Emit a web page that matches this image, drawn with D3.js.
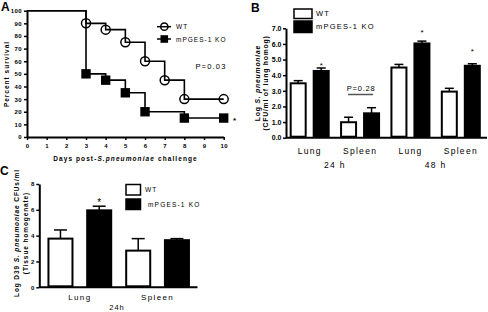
<!DOCTYPE html>
<html><head><meta charset="utf-8">
<script src="https://cdn.jsdelivr.net/npm/d3@7"></script>
<style>
body{margin:0;background:#fff}
svg{display:block}
text{font-family:"Liberation Sans",Arial,sans-serif;fill:#000}
</style></head><body>
<svg id="c" width="488" height="312"></svg>
<script>
// ---------- Panel A data (Kaplan-Meier survival) ----------
const aXTicks = [0,1,2,3,4,5,6,7,8,9,10];
const aYTicks = [0,10,20,30,40,50,60,70,80,90,100];
const wtDays = [0,3,4,5,6,7,8,10];
const wtSurv = [100,90,85,75,60,45,30,30];
const koDays = [0,3,4,5,6,8,10];
const koSurv = [100,50,45,35,20,15,15];
const seriesNames = ["WT","mPGES-1 KO"];

// ---------- Panel B data ----------
const bTissues = ["Lung","Spleen","Lung","Spleen"];
const bTimes = ["24 h","48 h"];
const bWT = [3.48,0.99,4.49,2.95];
const bWTerr = [0.17,0.32,0.20,0.21];
const bKO = [4.27,1.56,6.03,4.60];
const bKOerr = [0.19,0.36,0.15,0.13];
const bStars = ["*","","*","*"];
const bStarLevel = [4.77,0,6.84,5.67];
const bYTicks = [0,1,2,3,4,5,6,7];

// ---------- Panel C data ----------
const cTissues = ["Lung","Spleen"];
const cWT = [3.77,2.84];
const cWTerr = [0.67,0.93];
const cKO = [5.96,3.65];
const cKOerr = [0.32,0.12];
const cStars = ["*",""];
const cYTicks = [0,2,4,6,8];

const svg = d3.select("#c");
const FONT = '"Liberation Sans",Arial,sans-serif';

function styleAxis(g, fs, ls){
  g.select(".domain").attr("stroke","#000").attr("stroke-width",2);
  g.selectAll(".tick line").attr("stroke","#000").attr("stroke-width",1.5);
  g.selectAll(".tick text").attr("font-size",fs).attr("font-weight","bold")
   .attr("letter-spacing",ls).attr("font-family",FONT).attr("fill","#000");
}
function panelLetter(t,x,y){
  svg.append("text").attr("x",x).attr("y",y).attr("font-size",12).attr("font-weight","bold").text(t);
}
function rotTitle(x,y,parts,fs,ls){
  const t = svg.append("text").attr("transform",`translate(${x},${y}) rotate(-90)`)
    .attr("text-anchor","middle").attr("dominant-baseline","central")
    .attr("font-size",fs).attr("font-weight","bold").attr("letter-spacing",ls);
  parts.forEach(p=>t.append("tspan").attr("font-style",p[1]?"italic":"normal").text(p[0]));
}

// ================= Panel A =================
panelLetter("A",1,11);
const ax = d3.scaleLinear().domain([0,10]).range([27,223.7]);
const ay = d3.scaleLinear().domain([0,100]).range([137,10.7]);
const gAx = svg.append("g").attr("transform","translate(0,137)")
  .call(d3.axisBottom(ax).tickValues(aXTicks).tickSize(3).tickSizeOuter(0).tickPadding(3.5));
styleAxis(gAx,6,0.4);
const gAy = svg.append("g").attr("transform","translate(27,0)")
  .call(d3.axisLeft(ay).tickValues(aYTicks).tickSize(3).tickSizeOuter(0).tickPadding(2));
styleAxis(gAy,6,0.4);

const step = d3.line().x(d=>ax(d[0])).y(d=>ay(d[1])).curve(d3.curveStepAfter);
const wtPts = wtDays.map((d,i)=>[d,wtSurv[i]]);
const koPts = koDays.map((d,i)=>[d,koSurv[i]]);
svg.append("path").attr("d",step(wtPts)).attr("fill","none").attr("stroke","#000").attr("stroke-width",1.6);
svg.append("path").attr("d",step(koPts)).attr("fill","none").attr("stroke","#000").attr("stroke-width",1.6);
svg.selectAll(".wtm").data(wtPts.slice(1)).enter().append("circle")
  .attr("cx",d=>ax(d[0])).attr("cy",d=>ay(d[1])).attr("r",4.5)
  .attr("fill","none").attr("stroke","#000").attr("stroke-width",1.5);
svg.selectAll(".kom").data(koPts.slice(1)).enter().append("rect")
  .attr("x",d=>ax(d[0])-4.7).attr("y",d=>ay(d[1])-4.7).attr("width",9.4).attr("height",9.4).attr("fill","#000");
svg.append("text").attr("x",233).attr("y",123).attr("font-size",8).attr("font-weight","bold").text("*");
svg.append("text").attr("x",211).attr("y",66).attr("text-anchor","middle").attr("dominant-baseline","central")
  .attr("font-size",7.5).attr("letter-spacing",1.2).text("P=0.03");
// legend A
[0,1].forEach(i=>{
  const y = 26.7 + i*12.3;
  svg.append("line").attr("x1",157).attr("x2",171).attr("y1",y).attr("y2",y).attr("stroke","#000").attr("stroke-width",1.5);
  if(i===0) svg.append("circle").attr("cx",164.3).attr("cy",y).attr("r",3.6).attr("fill","none").attr("stroke","#000").attr("stroke-width",1.5);
  else svg.append("rect").attr("x",160.5).attr("y",y-3.8).attr("width",7.6).attr("height",7.6).attr("fill","#000");
  svg.append("text").attr("x",176).attr("y",y).attr("dominant-baseline","central").attr("font-size",6.5)
    .attr("letter-spacing",1).text(seriesNames[i]);
});
rotTitle(5.5,74,[["Percent survival",false]],6.5,1);
svg.append("text").attr("x",125.5).attr("y",157.5).attr("text-anchor","middle").attr("dominant-baseline","central")
  .attr("font-size",6.5).attr("font-weight","bold").attr("letter-spacing",1.1)
  .call(t=>{t.append("tspan").text("Days post-");t.append("tspan").attr("font-style","italic").text("S.pneumoniae");t.append("tspan").text(" challenge");});

// ================= Panel B =================
panelLetter("B",251,12);
const bIdx = d3.range(bTissues.length);
const bx0 = d3.scaleBand().domain(bIdx).range([284.5,486]).paddingInner(0.206).paddingOuter(0.103);
const bx1 = d3.scaleBand().domain([0,1]).range([0,bx0.bandwidth()]).paddingInner(0.261);
const by = d3.scaleLinear().domain([0,7]).range([137.7,28.3]);
svg.append("line").attr("x1",286).attr("x2",487).attr("y1",137.7).attr("y2",137.7).attr("stroke","#000").attr("stroke-width",2);
const gBy = svg.append("g").attr("transform","translate(286,0)")
  .call(d3.axisLeft(by).tickValues(bYTicks).tickSize(3).tickSizeOuter(0).tickPadding(1.5));
styleAxis(gBy,7,0);
function bars(x0,x1,y,vals,errs,series,capW){
  const g = svg.append("g");
  vals.forEach((v,i)=>{
    const x = x0(i)+x1(series), w = x1.bandwidth(), cx = x + w/2;
    const top = y(v+errs[i]);
    g.append("line").attr("x1",cx).attr("x2",cx).attr("y1",y(v)).attr("y2",top).attr("stroke","#000").attr("stroke-width",1.5);
    g.append("line").attr("x1",cx-capW/2).attr("x2",cx+capW/2).attr("y1",top).attr("y2",top).attr("stroke","#000").attr("stroke-width",1.5);
    g.append("rect").attr("x",x+1).attr("y",y(v)).attr("width",w-2).attr("height",y(0)-y(v)-1)
      .attr("fill",series===0?"#fff":"#000").attr("stroke","#000").attr("stroke-width",2);
  });
}
bars(bx0,bx1,by,bWT,bWTerr,0,9);
bars(bx0,bx1,by,bKO,bKOerr,1,9);
bIdx.forEach(i=>{
  svg.append("text").attr("x",bx0(i)+bx0.bandwidth()/2).attr("y",151).attr("text-anchor","middle")
    .attr("dominant-baseline","central").attr("font-size",8.5).attr("letter-spacing",1.3).text(bTissues[i]);
  if(bStars[i]){
    const cx = bx0(i)+bx1(1)+bx1.bandwidth()/2;
    svg.append("text").attr("x",cx).attr("y",by(bStarLevel[i])+4.5).attr("text-anchor","middle")
      .attr("font-size",8).text(bStars[i]);
  } else {
    svg.append("text").attr("x",bx0(i)+bx0.bandwidth()/2+1).attr("y",88).attr("text-anchor","middle")
      .attr("dominant-baseline","central").attr("font-size",7.5).attr("letter-spacing",0.8).text("P=0.28");
    svg.append("line").attr("x1",bx0(i)+8).attr("x2",bx0(i)+bx0.bandwidth()-7).attr("y1",94.5).attr("y2",94.5)
      .attr("stroke","#555").attr("stroke-width",1.5);
  }
});
bTimes.forEach((t,k)=>{
  const cx = (bx0(2*k)+bx0(2*k+1)+bx0.bandwidth())/2;
  svg.append("text").attr("x",cx).attr("y",165).attr("text-anchor","middle").attr("dominant-baseline","central")
    .attr("font-size",8.5).attr("letter-spacing",1.3).text(t);
});
// legend B
[0,1].forEach(i=>{
  const y0 = i===0?9:21, h = i===0?9.5:11.5;
  svg.append("rect").attr("x",294).attr("y",y0).attr("width",18).attr("height",h)
    .attr("fill",i===0?"#fff":"#000").attr("stroke","#000").attr("stroke-width",1.5);
  svg.append("text").attr("x",316).attr("y",y0+h/2).attr("dominant-baseline","central").attr("font-size",7.5)
    .attr("letter-spacing",1.2).text(seriesNames[i]);
});
rotTitle(256.5,83,[["Log ",false],["S. pneumoniae",true]],6.8,0.8);
rotTitle(264.5,83,[["(CFU/ml of lung homog)",false]],6.8,0.8);

// ================= Panel C =================
panelLetter("C",0,175);
const cIdx = d3.range(cTissues.length);
const cx0 = d3.scaleBand().domain(cIdx).range([41,196.4]).paddingInner(0.167).paddingOuter(0.083);
const cx1 = d3.scaleBand().domain([0,1]).range([0,cx0.bandwidth()]).paddingInner(0.328);
const cy = d3.scaleLinear().domain([0,8]).range([287.3,184]);
svg.append("line").attr("x1",39.3).attr("x2",197.5).attr("y1",287.3).attr("y2",287.3).attr("stroke","#000").attr("stroke-width",2);
const gCy = svg.append("g").attr("transform","translate(39.3,0)")
  .call(d3.axisLeft(cy).tickValues(cYTicks).tickSize(3).tickSizeOuter(0).tickPadding(2));
styleAxis(gCy,6,0);
bars(cx0,cx1,cy,cWT,cWTerr,0,13);
bars(cx0,cx1,cy,cKO,cKOerr,1,13);
cIdx.forEach(i=>{
  if(cStars[i]) svg.append("text").attr("x",cx0(i)+cx1(1)+cx1.bandwidth()/2).attr("y",cy(cKO[i]+cKOerr[i])-0.5)
    .attr("text-anchor","middle").attr("font-size",10).text(cStars[i]);
  svg.append("text").attr("x",cx0(i)+cx0.bandwidth()/2).attr("y",297).attr("text-anchor","middle")
    .attr("dominant-baseline","central").attr("font-size",8).attr("letter-spacing",1.4).text(cTissues[i]);
});
svg.append("text").attr("x",117).attr("y",307).attr("text-anchor","middle").attr("dominant-baseline","central")
  .attr("font-size",7.5).attr("letter-spacing",1).text("24h");
[0,1].forEach(i=>{
  const y0 = i===0?184.5:199;
  svg.append("rect").attr("x",126).attr("y",y0).attr("width",14.5).attr("height",10.5)
    .attr("fill",i===0?"#fff":"#000").attr("stroke","#000").attr("stroke-width",1.5);
  svg.append("text").attr("x",i===0?145:148).attr("y",y0+5.3).attr("dominant-baseline","central").attr("font-size",6.5)
    .attr("letter-spacing",1.2).text(seriesNames[i]);
});
rotTitle(15.5,233,[["Log D39 ",false],["S. pneumoniae",true],[" CFUs/ml",false]],6.5,0.9);
rotTitle(24.5,233,[["(Tissue homogenate)",false]],6.5,0.9);
</script></body></html>
